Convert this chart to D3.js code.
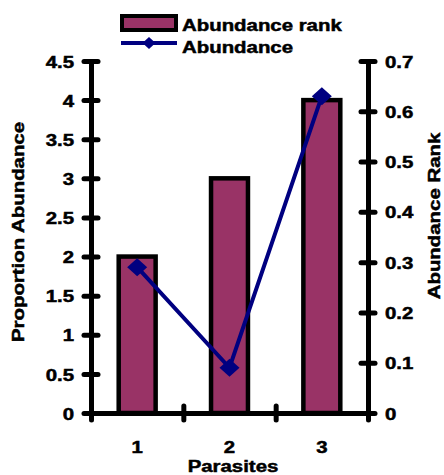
<!DOCTYPE html>
<html>
<head>
<meta charset="utf-8">
<script src="https://cdn.jsdelivr.net/npm/d3@7"></script>
<style>
  body { margin: 0; background: #fff; }
  text { font-family: "Liberation Sans", Arial, sans-serif; font-weight: bold; font-size: 17px;
         fill: #000; stroke: #000; stroke-width: 0.5px; }
</style>
</head>
<body>
<svg id="chart" width="444" height="475"></svg>
<script>
// data
const parasites = ["1", "2", "3"];
const abundanceRank = [2, 3, 4];          // bars, left axis
const abundance = [0.29, 0.09, 0.63];     // line, right axis
const leftTicks = [0, 0.5, 1, 1.5, 2, 2.5, 3, 3.5, 4, 4.5];
const rightTicks = [0, 0.1, 0.2, 0.3, 0.4, 0.5, 0.6, 0.7];

const SX = 1.2; // source font looks stretched sideways
const margin = { top: 61, left: 91, right: 76, bottom: 62 };
const width = 444 - margin.left - margin.right;
const height = 475 - margin.top - margin.bottom;

const svg = d3.select('#chart');
const ctx = svg.append('g')
    .attr('transform', `translate(${margin.left},${margin.top})`);

const xScale = d3.scaleBand()
    .domain(parasites)
    .range([0, width])
    .paddingInner(0.6)
    .paddingOuter(0.3);

// category boundaries for the crossing tick marks
const xEdges = d3.scaleLinear().domain([0, parasites.length]).range([0, width]);

const yLeft = d3.scaleLinear().domain([0, 4.5]).range([height, 0]);
const yRight = d3.scaleLinear().domain([0, 0.7]).range([height, 0]);

// bars
ctx.selectAll('rect.bar')
    .data(abundanceRank)
    .join('rect')
    .attr('class', 'bar')
    .attr('x', (d, i) => xScale(parasites[i]))
    .attr('y', d => yLeft(d))
    .attr('width', xScale.bandwidth())
    .attr('height', d => yLeft(0) - yLeft(d))
    .attr('fill', '#993366')
    .attr('stroke', '#000')
    .attr('stroke-width', 4.5);

function styleAxis(g) {
    g.select('.domain').attr('stroke', '#000').attr('stroke-width', 5);
    g.selectAll('.tick line')
        .attr('stroke', '#000')
        .attr('stroke-width', 5)
        .attr('stroke-linecap', 'round');
}

// left axis
const yAxisL = ctx.append('g')
    .call(d3.axisLeft(yLeft).tickValues(leftTicks).tickSize(7).tickSizeOuter(0)
        .tickFormat(d3.format('')));
styleAxis(yAxisL);
yAxisL.selectAll('.tick line').attr('x2', -7).attr('x1', 7);
yAxisL.selectAll('.tick text')
    .attr('x', -17 / SX)
    .attr('dy', '0.36em')
    .attr('transform', `scale(${SX},1)`);

// right axis
const yAxisR = ctx.append('g')
    .attr('transform', `translate(${width},0)`)
    .call(d3.axisRight(yRight).tickValues(rightTicks).tickSize(7).tickSizeOuter(0)
        .tickFormat(d3.format('')));
styleAxis(yAxisR);
yAxisR.selectAll('.tick line').attr('x1', -7).attr('x2', 7);
yAxisR.selectAll('.tick text')
    .attr('x', 17 / SX)
    .attr('dy', '0.36em')
    .attr('transform', `scale(${SX},1)`);

// x axis: boundary ticks
const xAxisG = ctx.append('g')
    .attr('transform', `translate(0,${height})`)
    .call(d3.axisBottom(xEdges).ticks(parasites.length).tickSize(8).tickSizeOuter(0)
        .tickFormat(''));
styleAxis(xAxisG);
xAxisG.selectAll('.tick line').attr('y1', -7).attr('y2', 7);

// x axis: category labels
const xLab = ctx.append('g')
    .attr('transform', `translate(0,${height})`)
    .call(d3.axisBottom(xScale).tickSize(0));
xLab.select('.domain').remove();
xLab.selectAll('.tick text')
    .attr('y', 40)
    .attr('dy', null)
    .attr('transform', `scale(${SX},1)`)
    .attr('x', 0);

// line
const xMid = i => xScale(parasites[i]) + xScale.bandwidth() / 2;
const line = d3.line()
    .x((d, i) => xMid(i))
    .y(d => yRight(d));

ctx.append('path')
    .datum(abundance)
    .attr('d', line)
    .attr('fill', 'none')
    .attr('stroke', '#000080')
    .attr('stroke-width', 4);

const diamond = 'M0,-9L10,0L0,9L-10,0Z';
ctx.selectAll('path.marker')
    .data(abundance)
    .join('path')
    .attr('class', 'marker')
    .attr('d', diamond)
    .attr('transform', (d, i) => `translate(${xMid(i)},${yRight(d)})`)
    .attr('fill', '#000080');

// axis titles
svg.append('text')
    .attr('transform', `translate(24,232) rotate(-90) scale(${SX},1)`)
    .attr('text-anchor', 'middle')
    .text('Proportion Abundance');

svg.append('text')
    .attr('transform', `translate(440,216) rotate(-90) scale(${SX},1)`)
    .attr('text-anchor', 'middle')
    .text('Abundance Rank');

svg.append('text')
    .attr('transform', `translate(233,472) scale(${SX},1)`)
    .attr('text-anchor', 'middle')
    .text('Parasites');

// legend
const legend = svg.append('g');
legend.append('rect')
    .attr('x', 122).attr('y', 16)
    .attr('width', 54).attr('height', 14)
    .attr('fill', '#993366')
    .attr('stroke', '#000')
    .attr('stroke-width', 4);
legend.append('text')
    .attr('transform', `translate(182,31) scale(${SX},1)`)
    .text('Abundance rank');

legend.append('line')
    .attr('x1', 121).attr('x2', 177)
    .attr('y1', 43).attr('y2', 43)
    .attr('stroke', '#000080')
    .attr('stroke-width', 4);
legend.append('path')
    .attr('d', 'M0,-6L6.5,0L0,6L-6.5,0Z')
    .attr('transform', 'translate(149,43)')
    .attr('fill', '#000080');
legend.append('text')
    .attr('transform', `translate(182,53) scale(${SX},1)`)
    .text('Abundance');
</script>
</body>
</html>
